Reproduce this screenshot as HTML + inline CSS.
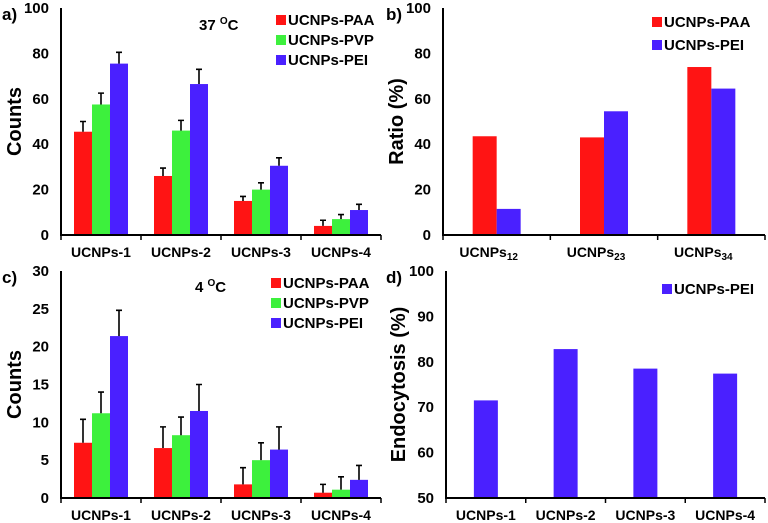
<!DOCTYPE html>
<html><head><meta charset="utf-8"><style>
body{margin:0;background:#fff}
svg{display:block;font-family:"Liberation Sans",Arial,sans-serif;font-weight:bold}
</style></head><body>
<svg id="c" width="768" height="523" viewBox="0 0 768 523"></svg>
<script>
const catsA = ["UCNPs-1","UCNPs-2","UCNPs-3","UCNPs-4"];
const paaA = [45.5,26,15,4], paaAErr = [4.5,3.5,2,2.5];
const pvpA = [57.5,46,20,7], pvpAErr = [5,4.5,3,2];
const peiA = [75.5,66.5,30.5,11], peiAErr = [5,6.5,3.5,2.5];
const ticksA = [0,20,40,60,80,100];
const catsB = ["12","23","34"];
const paaB = [43.5,43,74];
const peiB = [11.5,54.5,64.5];
const ticksB = [0,20,40,60,80,100];
const paaC = [7.3,6.6,1.8,0.7], paaCErr = [3.1,2.8,2.2,1.1];
const pvpC = [11.2,8.3,5,1.1], pvpCErr = [2.8,2.4,2.3,1.7];
const peiC = [21.4,11.5,6.4,2.4], peiCErr = [3.4,3.5,3,1.9];
const ticksC = [0,5,10,15,20,25,30];
const peiD = [71.5,82.8,78.5,77.4];
const ticksD = [50,60,70,80,90,100];

const RED="#ff1414", GREEN="#3df03d", BLUE="#4a20ff";
const svg=document.getElementById('c');
const NS="http://www.w3.org/2000/svg";
function mk(tag,attrs,parent){const e=document.createElementNS(NS,tag);for(const k in attrs)e.setAttribute(k,attrs[k]);(parent||svg).appendChild(e);return e;}
function txt(s,x,y,size,anchor,parent){const t=mk('text',{x:x,y:y,'font-size':size,'text-anchor':anchor||'start'},parent);t.textContent=s;return t;}

function panel(o){
  const g=mk('g',{});
  
  
  const y=v=>o.y1-(v-o.min)/(o.max-o.min)*(o.y1-o.y0);
  const n=o.cats.length, gw=(o.x1-o.x0)/n;
  o.series.forEach((s,si)=>{
    s.vals.forEach((v,i)=>{
      const cx=o.x0+gw*(i+0.5);
      const bx=cx-o.series.length*o.bw/2+si*o.bw;
      const r=mk('rect',{x:bx,y:y(v),width:o.bw,height:o.y1-y(v),fill:s.color},g);
      
      
      if(s.err){
        const top=y(v+s.err[i]), mx=bx+o.bw/2;
        const l=mk('path',{d:`M${mx} ${y(v)}V${top}M${mx-3} ${top}H${mx+3}`,stroke:'#000','stroke-width':1.6,fill:'none'},g);
        
        
      }
    });
  });
  const ax=mk('path',{d:`M${o.x0} ${o.y0}V${o.y1}H${o.x1}`,stroke:'#000','stroke-width':2,fill:'none'},g);
  
  
  for(let i=0;i<=n;i++){const tx=o.x0+gw*i;mk('path',{d:`M${tx} ${o.y1}V${o.y1+5}`,stroke:'#000','stroke-width':1.5},g);}
  o.ticks.forEach(t=>{const e=txt(String(t),o.x0-12,y(t)+5,15,'end',g);});
  o.cats.forEach((c,i)=>{
    const cx=o.x0+gw*(i+0.5);
    let e;
    if(o.sub){e=txt('UCNPs',cx-8,o.y1+22,14,'middle',g);const ts=mk('tspan',{'font-size':10,dy:3},e);ts.textContent=c;}
    else e=txt(c,cx,o.y1+22,14,'middle',g);
    
  });
  const yt=txt(o.ylabel,0,0,20,'middle',g);
  yt.setAttribute('transform',`translate(${o.ylx},${(o.y0+o.y1)/2}) rotate(-90)`);
  
  const pl=txt(o.plabel,o.plx,o.y0+12,17,'start',g);
  
  o.series.forEach((s,si)=>{
    const ly=o.leg[1]+si*o.leg[2];
    const lg=mk('g',{},g);
    
    
    mk('rect',{x:o.leg[0],y:ly-10,width:10,height:10,fill:s.color},lg);
    txt(s.label,o.leg[0]+12,ly,15,'start',lg);
  });
  if(o.temp){
    const t=txt(o.temp,o.temp_x,o.temp_y,15,'start',g);
    
    const s=mk('tspan',{'font-size':10,dy:-6},t);s.textContent='O';
    const s2=mk('tspan',{dy:6},t);s2.textContent='C';
  }
}
panel({name:'panel-a',x0:61,x1:381,y0:8,y1:235,min:0,max:100,bw:18,cats:catsA,ticks:ticksA,ylabel:'Counts',ylx:21,plabel:'a)',plx:2,
  series:[{key:'paa',label:'UCNPs-PAA',color:RED,vals:paaA,err:paaAErr},{key:'pvp',label:'UCNPs-PVP',color:GREEN,vals:pvpA,err:pvpAErr},{key:'pei',label:'UCNPs-PEI',color:BLUE,vals:peiA,err:peiAErr}],
  leg:[276,25,20],temp:'37 ',temp_x:199,temp_y:30});
panel({name:'panel-b',x0:443,x1:765,y0:8,y1:235,min:0,max:100,bw:24,cats:catsB,sub:true,ticks:ticksB,ylabel:'Ratio (%)',ylx:403,plabel:'b)',plx:386,
  series:[{key:'paa',label:'UCNPs-PAA',color:RED,vals:paaB},{key:'pei',label:'UCNPs-PEI',color:BLUE,vals:peiB}],
  leg:[652,27,23]});
panel({name:'panel-c',x0:61,x1:381,y0:271,y1:498,min:0,max:30,bw:18,cats:catsA,ticks:ticksC,ylabel:'Counts',ylx:21,plabel:'c)',plx:2,
  series:[{key:'paa',label:'UCNPs-PAA',color:RED,vals:paaC,err:paaCErr},{key:'pvp',label:'UCNPs-PVP',color:GREEN,vals:pvpC,err:pvpCErr},{key:'pei',label:'UCNPs-PEI',color:BLUE,vals:peiC,err:peiCErr}],
  leg:[271,288,20],temp:'4 ',temp_x:195,temp_y:292});
panel({name:'panel-d',x0:446,x1:765,y0:271,y1:498,min:50,max:100,bw:24,cats:catsA,ticks:ticksD,ylabel:'Endocytosis (%)',ylx:405,plabel:'d)',plx:386,
  series:[{key:'pei',label:'UCNPs-PEI',color:BLUE,vals:peiD}],
  leg:[662,294,20]});
</script>
</body></html>
